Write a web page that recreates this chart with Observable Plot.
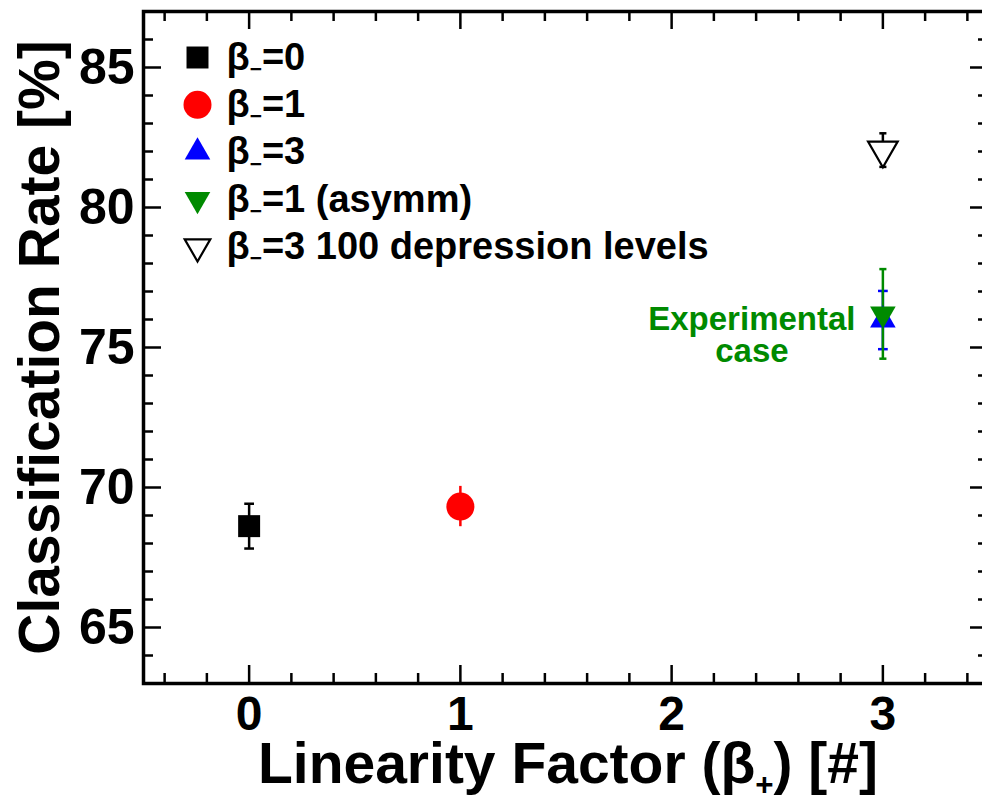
<!DOCTYPE html>
<html><head><meta charset="utf-8">
<script src="https://cdn.jsdelivr.net/npm/d3@7"></script>
<script src="https://cdn.jsdelivr.net/npm/@observablehq/plot@0.6"></script>
<style>
html,body{margin:0;padding:0;background:#fff;overflow:hidden;}
</style></head><body><div id="chart"></div>
<script>
// ---- data ----
const xTickLabels = [0, 1, 2, 3];
const yTickLabels = [65, 70, 75, 80, 85];
const seriesNames = ["β₋=0", "β₋=1", "β₋=3", "β₋=1 (asymm)", "β₋=3 100 depression levels"];
const seriesX = [0, 1, 3, 3, 3];
const seriesY = [68.62, 69.32, 75.98, 76.2, 82.05];
const seriesErr = [0.8, 0.72, 1.04, 1.6, 0.6];
const seriesColor = ["#000000", "#ff0000", "#0000ff", "#008a00", "#000000"];
const seriesFill = ["#000000", "#ff0000", "#0000ff", "#008a00", "#ffffff"];
const seriesSymbol = ["square", "circle", "triangle", "triangle", "triangle"];
const seriesRotate = [0, 0, 0, 180, 180];
const annotationText = ["Experimental\ncase"];
const annotationSeries = 3;
const xLabel = "Linearity Factor (β₊) [#]";
const yLabel = "Classification Rate [%]";

// ---- layout ----
const W = 982, H = 805;
const mL = 143, mT = 11, mR = -6, mB = 122;
const plotW = W - mL - mR, plotH = H - mT - mB;
const majLen = 18, minLen = 10;
const FONT = "'Liberation Sans', Arial, Helvetica, sans-serif";
const green = "#008a00";
const capR = [5.5, 0, 5.5, 4, 4];

const xMinor = d3.range(-4, 35, 2).map(v => v / 10).filter(v => !xTickLabels.includes(v));
const yMinor = d3.range(64, 87, 1).filter(v => !yTickLabels.includes(v));

const points = seriesNames.map((name, i) => ({
  name, x: seriesX[i], y: seriesY[i], err: seriesErr[i], cap: capR[i],
  color: seriesColor[i], fill: seriesFill[i], symbol: seriesSymbol[i], rotate: seriesRotate[i]
}));

const hbar = {draw(ctx, size) { const w = Math.sqrt(size) / 2; ctx.moveTo(-w, 0); ctx.lineTo(w, 0); }};
const markerR = {square: 12.4, circle: 14, triangle: 9.5};

const tk = {stroke: "black", strokeWidth: 2.5};
const marks = [
  Plot.frame({stroke: "black", strokeWidth: 3.5}),
  Plot.tickX(xTickLabels, {x: d => d, insetTop: plotH - majLen, ...tk}),
  Plot.tickX(xMinor, {x: d => d, insetTop: plotH - minLen, ...tk}),
  Plot.tickX(xTickLabels, {x: d => d, insetBottom: plotH - majLen, ...tk}),
  Plot.tickX(xMinor, {x: d => d, insetBottom: plotH - minLen, ...tk}),
  Plot.tickY(yTickLabels, {y: d => d, insetRight: plotW - majLen, ...tk}),
  Plot.tickY(yMinor, {y: d => d, insetRight: plotW - minLen, ...tk}),
  Plot.tickY(yTickLabels, {y: d => d, insetLeft: plotW - majLen, ...tk}),
  Plot.tickY(yMinor, {y: d => d, insetLeft: plotW - minLen, ...tk}),
  Plot.axisX(xTickLabels, {tickSize: 0, tickPadding: 12, fontSize: 48, fontWeight: "bold", label: null, fill: "black", tickFormat: d => String(d)}),
  Plot.axisY(yTickLabels, {tickSize: 0, tickPadding: 9, fontSize: 50, fontWeight: "bold", label: null, fill: "black", tickFormat: d => String(d)}),
  Plot.text([xLabel], {frameAnchor: "bottom", text: d => d, textAnchor: "middle", lineAnchor: "middle", dx: 2, dy: 81, fontSize: 57, fontWeight: "bold", fill: "black"}),
  Plot.text([yLabel], {frameAnchor: "left", text: d => d, textAnchor: "middle", lineAnchor: "middle", rotate: -90, dx: -103, fontSize: 57, fontWeight: "bold", fill: "black"})
];

// error bars
points.forEach(p => {
  marks.push(Plot.ruleX([p], {x: "x", y1: d => d.y - d.err, y2: d => d.y + d.err, stroke: p.color, strokeWidth: 2.5}));
  if (p.cap > 0) marks.push(
    Plot.dot([p], {x: "x", y: d => d.y + d.err, symbol: hbar, r: p.cap, stroke: p.color, fill: "none", strokeWidth: 2.5}),
    Plot.dot([p], {x: "x", y: d => d.y - d.err, symbol: hbar, r: p.cap, stroke: p.color, fill: "none", strokeWidth: 2.5})
  );
});
// markers
points.forEach(p => {
  marks.push(Plot.dot([p], {x: "x", y: "y", symbol: p.symbol, r: markerR[p.symbol] + (p.fill === "#ffffff" ? 1.5 : 0),
    fill: p.fill, stroke: p.color, strokeWidth: p.fill === "#ffffff" ? 2.2 : 0, rotate: p.rotate}));
});
// annotation
const ap = points[annotationSeries];
marks.push(Plot.text([{x: ap.x, y: ap.y, text: annotationText[0]}], {x: "x", y: "y", text: "text", dx: -131, dy: 22,
  fill: green, fontSize: 33, fontWeight: "bold", lineHeight: 0.97}));
// legend
points.forEach((p, i) => {
  marks.push(
    Plot.dot([p], {frameAnchor: "top-left", dx: 54, dy: 46 + i * 47.3, symbol: p.symbol,
      r: markerR[p.symbol], fill: p.fill, stroke: p.color,
      strokeWidth: p.fill === "#ffffff" ? 2.2 : 0, rotate: p.rotate}),
    Plot.text([p], {frameAnchor: "top-left", text: "name", dx: 83, dy: 46 + i * 47.3, textAnchor: "start", lineAnchor: "middle",
      fontSize: 38, fontWeight: "bold", fill: "black"})
  );
});

const chart = Plot.plot({
  width: W, height: H,
  marginLeft: mL, marginTop: mT, marginRight: mR, marginBottom: mB,
  x: {domain: [-0.5, 3.5], axis: null},
  y: {domain: [63, 87], axis: null},
  style: {fontFamily: FONT, background: "white", color: "black"},
  marks
});
document.getElementById("chart").appendChild(chart);

// subscripts (β₋, β₊) as real text tspans
const NS = "http://www.w3.org/2000/svg";
chart.querySelectorAll("text").forEach(t => {
  if (t.querySelector("tspan")) return;
  const s = t.textContent;
  const m = s.match(/[₋₊]/);
  if (!m) return;
  const fs = parseFloat(getComputedStyle(t).fontSize);
  const i = m.index;
  const isMinus = m[0] === "₋";
  const shift = isMinus ? fs * 0.17 : fs * 0.22;
  t.textContent = "";
  t.appendChild(document.createTextNode(s.slice(0, i)));
  const ts = document.createElementNS(NS, "tspan");
  ts.setAttribute("font-size", fs * 0.55);
  ts.setAttribute("dy", shift);
  ts.textContent = isMinus ? "−" : "+";
  t.appendChild(ts);
  const rest = document.createElementNS(NS, "tspan");
  rest.setAttribute("dy", -shift);
  rest.textContent = s.slice(i + 1);
  t.appendChild(rest);
});
</script></body></html>
